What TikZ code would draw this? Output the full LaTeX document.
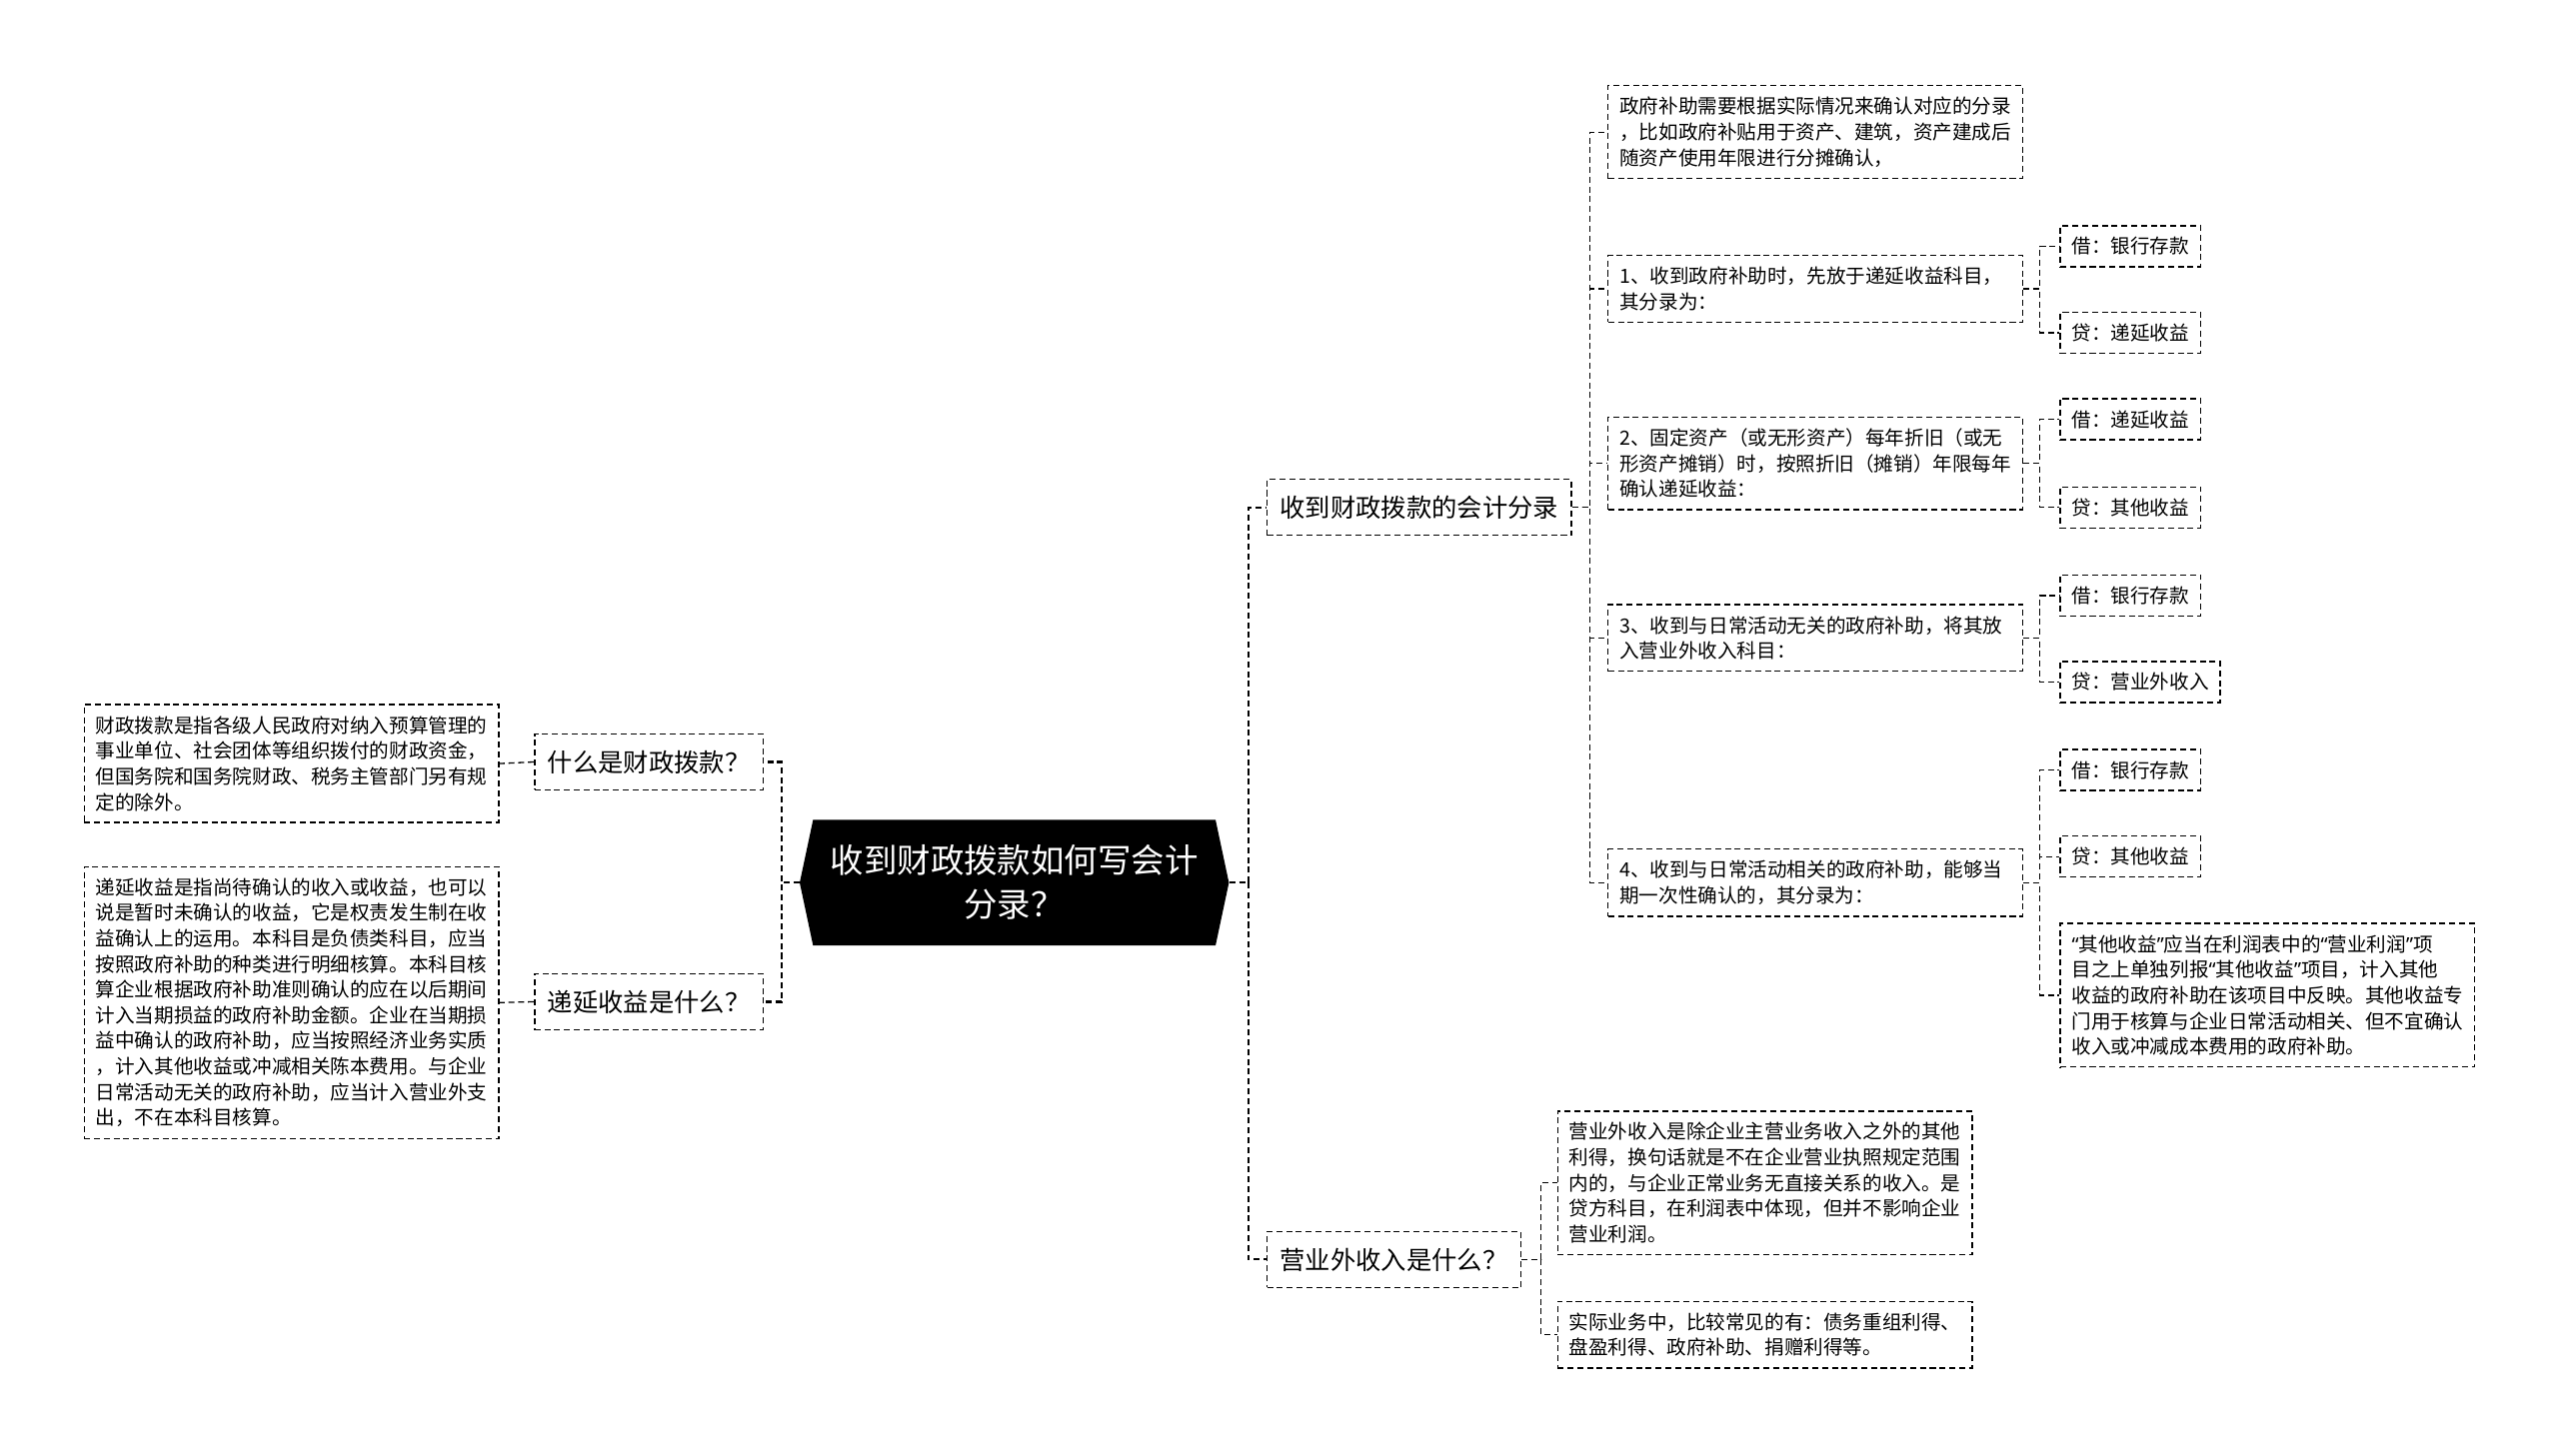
\documentclass[tikz,border=0pt]{standalone}
\usepackage{fontspec}
\setmainfont{Noto Sans CJK SC}
\newfontfamily\quotefont{Noto Sans}
\newcommand\cnq[1]{{\quotefont “}#1{\quotefont ”}}
\usetikzlibrary{shapes.symbols}

\begin{document}
\begin{tikzpicture}[x=1pt,y=-1pt,
  box/.style={draw, line width=0.8pt, dash pattern=on 3.7pt off 2.3pt, inner xsep=7pt, inner ysep=7pt, font=\fontsize{12}{15.7}\selectfont},
  note/.style={box, text width=240pt, align=left},
  topic/.style={draw, line width=0.8pt, dash pattern=on 3.7pt off 2.3pt, inner xsep=8pt, inner ysep=10pt, font=\fontsize{15.5}{19}\selectfont},
  lnk/.style={line width=0.8pt, dash pattern=on 3.7pt off 2.3pt},
  lnkc/.style={line width=1.3pt, dash pattern=on 3.7pt off 2.3pt}]

\useasboundingbox (0,0) rectangle (1568,892);

\node[signal, signal to=west and east, signal pointer angle=156, fill=black, text=white, minimum width=263pt, minimum height=77pt, inner sep=4pt, align=center, font=\fontsize{20.5}{27}\selectfont] (root) at (621.5,541) {收到财政拨款如何写会计\\分录？};

\node[topic, anchor=east] (q1) at (468,467) {什么是财政拨款？};
\node[topic, anchor=east] (q2) at (468,614) {递延收益是什么？};
\node[topic, anchor=west] (a1) at (776,311) {收到财政拨款的会计分录};
\node[topic, anchor=west] (a2) at (776,772) {营业外收入是什么？};

\node[note, anchor=east] (e1) at (306,468) {财政拨款是指各级人民政府对纳入预算管理的\\事业单位、社会团体等组织拨付的财政资金，\\但国务院和国务院财政、税务主管部门另有规\\定的除外。};
\node[note, anchor=east] (e2) at (306,614.5) {递延收益是指尚待确认的收入或收益，也可以\\说是暂时未确认的收益，它是权责发生制在收\\益确认上的运用。本科目是负债类科目，应当\\按照政府补助的种类进行明细核算。本科目核\\算企业根据政府补助准则确认的应在以后期间\\计入当期损益的政府补助金额。企业在当期损\\益中确认的政府补助，应当按照经济业务实质\\，计入其他收益或冲减相关陈本费用。与企业\\日常活动无关的政府补助，应当计入营业外支\\出，不在本科目核算。};

\node[note, anchor=west] (b0) at (985,81) {政府补助需要根据实际情况来确认对应的分录\\，比如政府补贴用于资产、建筑，资产建成后\\随资产使用年限进行分摊确认，};
\node[note, anchor=west] (b1) at (985,177) {1、收到政府补助时，先放于递延收益科目，\\其分录为：};
\node[note, anchor=west] (b2) at (985,284) {2、固定资产（或无形资产）每年折旧（或无\\形资产摊销）时，按照折旧（摊销）年限每年\\确认递延收益：};
\node[note, anchor=west] (b3) at (985,391) {3、收到与日常活动无关的政府补助，将其放\\入营业外收入科目：};
\node[note, anchor=west] (b4) at (985,541) {4、收到与日常活动相关的政府补助，能够当\\期一次性确认的，其分录为：};

\node[box, anchor=west] (c11) at (1262,151) {借：银行存款};
\node[box, anchor=west] (c12) at (1262,204) {贷：递延收益};
\node[box, anchor=west] (c21) at (1262,257) {借：递延收益};
\node[box, anchor=west] (c22) at (1262,311) {贷：其他收益};
\node[box, anchor=west] (c31) at (1262,365) {借：银行存款};
\node[box, anchor=west] (c32) at (1262,418) {贷：营业外收入};
\node[box, anchor=west] (c41) at (1262,472) {借：银行存款};
\node[box, anchor=west] (c42) at (1262,525) {贷：其他收益};
\node[note, anchor=west] (c43) at (1262,610) {\cnq{其他收益}应当在利润表中的\cnq{营业利润}项\\目之上单独列报\cnq{其他收益}项目，计入其他\\收益的政府补助在该项目中反映。其他收益专\\门用于核算与企业日常活动相关、但不宜确认\\收入或冲减成本费用的政府补助。};

\node[note, anchor=west] (d1) at (954,725) {营业外收入是除企业主营业务收入之外的其他\\利得，换句话就是不在企业营业执照规定范围\\内的，与企业正常业务无直接关系的收入。是\\贷方科目，在利润表中体现，但并不影响企业\\营业利润。};
\node[note, anchor=west] (d2) at (954,818) {实际业务中，比较常见的有：债务重组利得、\\盘盈利得、政府补助、捐赠利得等。};

\draw[lnkc] (root.west) -- ++(-11,0) |- (q1.east);
\draw[lnkc] (root.west) -- ++(-11,0) |- (q2.east);
\draw[lnkc] (root.east) -- ++(12,0) |- (a1.west);
\draw[lnkc] (root.east) -- ++(12,0) |- (a2.west);

\draw[lnk] (q1.west) -- (e1.east);
\draw[lnk] (q2.west) -- (e2.east);

\draw[lnk] (a1.east) -- ++(11,0) |- (b0.west);
\draw[lnk] (a1.east) -- ++(11,0) |- (b1.west);
\draw[lnk] (a1.east) -- ++(11,0) |- (b2.west);
\draw[lnk] (a1.east) -- ++(11,0) |- (b3.west);
\draw[lnk] (a1.east) -- ++(11,0) |- (b4.west);

\draw[lnk] (b1.east) -- ++(10,0) |- (c11.west);
\draw[lnk] (b1.east) -- ++(10,0) |- (c12.west);
\draw[lnk] (b2.east) -- ++(10,0) |- (c21.west);
\draw[lnk] (b2.east) -- ++(10,0) |- (c22.west);
\draw[lnk] (b3.east) -- ++(10,0) |- (c31.west);
\draw[lnk] (b3.east) -- ++(10,0) |- (c32.west);
\draw[lnk] (b4.east) -- ++(10,0) |- (c41.west);
\draw[lnk] (b4.east) -- ++(10,0) |- (c42.west);
\draw[lnk] (b4.east) -- ++(10,0) |- (c43.west);

\draw[lnk] (a2.east) -- ++(12,0) |- (d1.west);
\draw[lnk] (a2.east) -- ++(12,0) |- (d2.west);
\end{tikzpicture}
\end{document}
